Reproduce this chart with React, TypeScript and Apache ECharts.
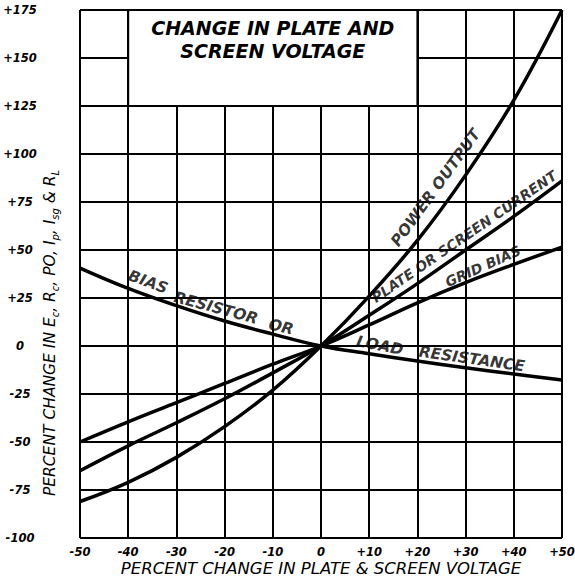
import React, { useEffect, useRef } from "react";
import * as echarts from "echarts";

// Percent change in plate & screen voltage (x axis)
const xValues = [-50, -40, -30, -20, -10, 0, 10, 20, 30, 40, 50];
// Percent change of each quantity
const powerOutput = [-81, -71, -58, -42, -23, 0, 26, 55, 89, 128, 175];
const plateCurrent = [-65, -52, -40, -27.5, -14, 0, 16, 32.5, 50, 67.5, 86];
const gridBias = [-50, -39.5, -29.5, -19.5, -9.5, 0, 11, 22.5, 33, 42.5, 51.5];
const biasResistor = [40.6, 30, 21, 13, 6.2, 0, -4, -7.8, -11.3, -14.6, -17.7];

// Axis ranges / ticks
const xRange = [-50, 50, 10];
const yRange = [-100, 175, 25];

// Title box (data coords) and title text
const titleBox = [[-40, 125], [20, 175]];
const titleLines = ["CHANGE IN PLATE AND", "SCREEN VOLTAGE"];

// Curve labels
const labelTexts = ["POWER OUTPUT", "PLATE OR SCREEN CURRENT", "GRID BIAS", "BIAS", "RESISTOR", "OR", "LOAD", "RESISTANCE"];
const labelX = [23.8, 29.7, 33.6, -35.9, -21.8, -8.3, 12.2, 31.3];
const labelY = [82.4, 57, 41.6, 33.3, 19.8, 9.9, 0.2, -6.8];
const labelRotate = [54, 34.5, 24, -20, -15, -13, -11, -8];
const labelSize = [15.5, 14, 14, 15.5, 15.5, 15.5, 15.5, 15.5];

const xAxisName = "PERCENT CHANGE IN PLATE & SCREEN VOLTAGE";
const yAxisName =
  "{a|PERCENT CHANGE IN E}{s|c}{a|, R}{s|c}{a|, PO, I}{s|p}{a|, I}{s|sg}{a| & R}{s|L}";

const LETTER_FONT = "DejaVu Sans";
const NUM_FONT = "DejaVu Sans";

const fmt = (v: number) => (v > 0 ? "+" + v : String(v));
const pairs = (ys: number[]) => xValues.map((x, i) => [x, ys[i]]);

export default function App() {
  const ref = useRef<HTMLDivElement>(null);
  useEffect(() => {
    if (!ref.current) return;
    const chart = echarts.init(ref.current, null, { renderer: "svg" });
    const lineStyle = { color: "#000", width: 3.5 };
    const baseLine = {
      type: "line",
      smooth: 0.4,
      symbol: "none",
      lineStyle,
      silent: true,
      z: 5,
    };
    const tickLabel = {
      formatter: fmt,
      color: "#000",
      fontFamily: NUM_FONT,
      fontSize: 11.5,
      fontWeight: "bold",
      fontStyle: "italic",
    };
    chart.setOption({
      animation: false,
      backgroundColor: "#fff",
      grid: { left: 80, right: 13, top: 10, bottom: 39, containLabel: false, outerBoundsMode: "none" },
      xAxis: {
        type: "value",
        min: xRange[0],
        max: xRange[1],
        interval: xRange[2],
        axisLine: { show: true, lineStyle: { color: "#000", width: 2 } },
        axisTick: { show: false },
        splitLine: { show: true, lineStyle: { color: "#000", width: 2 } },
        axisLabel: { ...tickLabel, margin: 8 },
        name: xAxisName,
        nameLocation: "middle",
        nameGap: 22,
        nameMoveOverlap: false,
        nameTextStyle: {
          color: "#000",
          fontFamily: LETTER_FONT,
          fontStyle: "italic",
          fontSize: 16.5,
        },
      },
      yAxis: {
        type: "value",
        min: yRange[0],
        max: yRange[1],
        interval: yRange[2],
        axisLine: { show: true, lineStyle: { color: "#000", width: 2 } },
        axisTick: { show: false },
        splitLine: { show: true, lineStyle: { color: "#000", width: 2 } },
        axisLabel: { ...tickLabel, align: "center", margin: 60 },
        name: yAxisName,
        nameLocation: "middle",
        nameRotate: 90,
        nameGap: 20,
        nameMoveOverlap: false,
        nameTextStyle: {
          color: "#000",
          padding: [0, 118, 0, 0],
          rich: {
            a: {
              fontFamily: LETTER_FONT,
              fontStyle: "italic",
              fontSize: 15.5,
              color: "#000",
              lineHeight: 20,
            },
            s: {
              fontFamily: LETTER_FONT,
              fontStyle: "italic",
              fontSize: 10,
              color: "#000",
              verticalAlign: "bottom",
              lineHeight: 20,
            },
          },
        },
      },
      series: [
        {
          ...baseLine,
          name: "Power output",
          data: pairs(powerOutput),
          markArea: {
            silent: true,
            z: 1,
            itemStyle: { color: "#fff", borderColor: "#000", borderWidth: 2, opacity: 1 },
            label: {
              show: true,
              position: "insideTop",
              distance: 7,
              formatter: () => titleLines.join("\n"),
              color: "#000",
              fontFamily: LETTER_FONT,
              fontStyle: "italic",
              fontWeight: "bold",
              fontSize: 19,
              lineHeight: 23,
              align: "center",
            },
            data: [[{ coord: titleBox[0] }, { coord: titleBox[1] }]],
          },
        },
        { ...baseLine, name: "Plate or screen current", data: pairs(plateCurrent) },
        { ...baseLine, name: "Grid bias", data: pairs(gridBias) },
        { ...baseLine, name: "Bias resistor or load resistance", data: pairs(biasResistor) },
        {
          type: "scatter",
          name: "labels",
          silent: true,
          symbolSize: 0,
          z: 6,
          data: labelTexts.map((t, i) => ({
            value: [labelX[i], labelY[i]],
            label: {
              show: true,
              position: "inside",
              formatter: t,
              rotate: labelRotate[i],
              color: "#000",
              fontFamily: LETTER_FONT,
              fontStyle: "italic",
              fontWeight: "bold",
              fontSize: labelSize[i],
            },
          })),
        },
      ],
    });
    return () => chart.dispose();
  }, []);
  return (
    <div
      ref={ref}
      style={{ position: "fixed", left: 0, top: 0, width: 575, height: 577, background: "#fff" }}
    />
  );
}
